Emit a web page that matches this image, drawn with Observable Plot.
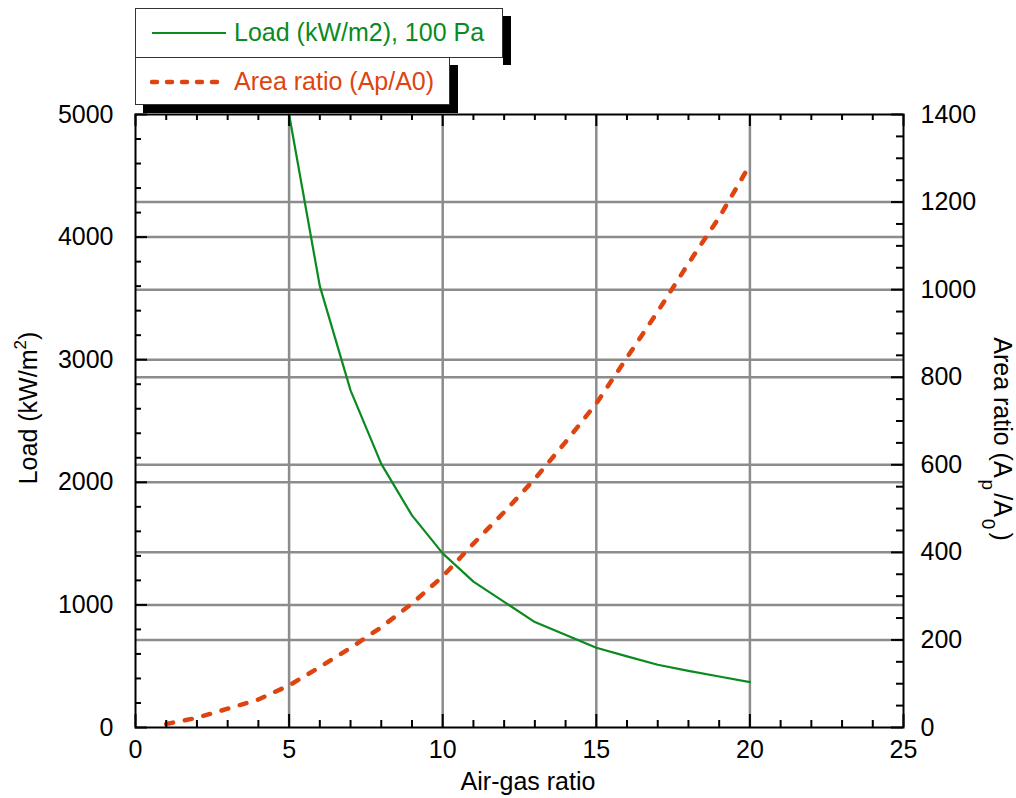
<!DOCTYPE html>
<html>
<head>
<meta charset="utf-8">
<script src="https://cdn.jsdelivr.net/npm/d3@7"></script>
<script src="https://cdn.jsdelivr.net/npm/@observablehq/plot@0.6"></script>
<style>
  body { margin: 0; background: #fff; }
  #wrap { position: relative; width: 1016px; height: 798px; font-family: "Liberation Sans", Arial, Helvetica, sans-serif; }
  #wrap > svg { position: absolute; left: 0; top: 0; }
  .box { position: absolute; background: #fff; border: 1px solid #333; box-sizing: border-box; z-index: 3; }
  .shade { position: absolute; background: #000; z-index: 2; }
  .item { position: absolute; font-size: 25px; white-space: nowrap; line-height: 25px; display: flex; align-items: center; }
  .item svg { display: block; margin-right: 6px; }
</style>
</head>
<body>
<div id="wrap"></div>
<script>
// Air-gas ratio vs. burner load (kW/m2 at 100 Pa) and port area ratio Ap/A0
const loadX = [5, 6, 7, 8, 9, 10, 11, 13, 15, 16, 17, 18, 19, 20];
const loadY = [5000, 3600, 2750, 2150, 1730, 1420, 1190, 860, 650, 580, 512, 462, 416, 370];
const areaX = [1, 2, 3, 4, 5, 6, 7, 8, 9, 10, 11, 12, 13, 14, 15, 16, 17, 18, 19, 20];
const areaY = [8, 22, 43, 64, 96, 138, 182, 229, 283, 345, 420, 492, 568, 652, 740, 845, 950, 1060, 1165, 1285];

const xTicks = [0, 5, 10, 15, 20, 25];
const loadTicks = [0, 1000, 2000, 3000, 4000, 5000];
const areaTicks = [0, 200, 400, 600, 800, 1000, 1200, 1400];

const seriesNames = ["Load (kW/m2), 100 Pa", "Area ratio (Ap/A0)"];
const xLabel = "Air-gas ratio";

const green = "#0a8a1f";
const red = "#dd4410";
const gridColor = "#8c8c8c";

// right axis values are mapped onto the left (load) scale
const loadMax = 5000, areaMax = 1400;
const k = loadMax / areaMax;

const W = 1016, H = 798;
const mL = 135, mR = 113, mT = 114, mB = 71;
const pw = W - mL - mR, ph = H - mT - mB;

const loadData = loadX.map((x, i) => ({x, y: loadY[i]}));
const areaData = areaX.map((x, i) => ({x, y: areaY[i] * k}));

const minorX = d3.range(0, 26).filter(d => d % 5 !== 0);
const minorLoad = d3.range(0, 5001, 200).filter(d => d % 1000 !== 0);
const minorArea = d3.range(0, 1401, 50).filter(d => d % 200 !== 0).map(d => d * k);
const majorArea = areaTicks.map(d => d * k);

const tickStyle = {stroke: "#000", strokeWidth: 2};
const plain = d => String(Math.round(d));

const chart = Plot.plot({
  width: W, height: H,
  marginLeft: mL, marginRight: mR, marginTop: mT, marginBottom: mB,
  style: {fontFamily: "'Liberation Sans', Arial, Helvetica, sans-serif", fontSize: "25px", color: "#000", background: "transparent"},
  x: {domain: [0, 25]},
  y: {domain: [0, loadMax]},
  marks: [
    // grid
    Plot.ruleX([5, 10, 15, 20], {stroke: gridColor, strokeWidth: 2.5}),
    Plot.ruleY(loadTicks.slice(1, -1), {stroke: gridColor, strokeWidth: 2.5}),
    Plot.ruleY(majorArea.slice(1, -1), {stroke: gridColor, strokeWidth: 2.5}),
    // series
    Plot.line(loadData, {x: "x", y: "y", stroke: green, strokeWidth: 2.2}),
    Plot.line(areaData, {x: "x", y: "y", stroke: red, strokeWidth: 4.5, strokeDasharray: "7,12", strokeLinecap: "round"}),
    // frame
    Plot.frame({stroke: "#000", strokeWidth: 2}),
    // inward ticks: left
    Plot.tickY(loadTicks, {y: d => d, insetRight: pw - 12, ...tickStyle}),
    Plot.tickY(minorLoad, {y: d => d, insetRight: pw - 6, ...tickStyle}),
    // right
    Plot.tickY(majorArea, {y: d => d, insetLeft: pw - 12, ...tickStyle}),
    Plot.tickY(minorArea, {y: d => d, insetLeft: pw - 7, ...tickStyle}),
    // bottom
    Plot.tickX(xTicks, {x: d => d, insetTop: ph - 13, ...tickStyle}),
    Plot.tickX(minorX, {x: d => d, insetTop: ph - 7, ...tickStyle}),
    // top
    Plot.tickX(xTicks, {x: d => d, insetBottom: ph - 12, ...tickStyle}),
    Plot.tickX(minorX, {x: d => d, insetBottom: ph - 6, ...tickStyle}),
    // tick labels
    Plot.axisX({ticks: xTicks, tickFormat: plain, tickSize: 0, tickPadding: 13, label: null, fontSize: 25}),
    Plot.axisY({anchor: "left", ticks: loadTicks, tickFormat: plain, tickSize: 0, tickPadding: 22, label: null, fontSize: 25}),
    Plot.axisY({anchor: "right", ticks: majorArea, tickFormat: d => plain(d / k), tickSize: 0, tickPadding: 17, label: null, fontSize: 25})
  ]
});

const wrap = document.getElementById("wrap");
wrap.appendChild(chart);

// axis titles with super/subscripts
const svg = d3.select(chart);
const font = "'Liberation Sans', Arial, Helvetica, sans-serif";

svg.append("text")
  .attr("x", 528).attr("y", 790)
  .attr("text-anchor", "middle")
  .style("font-family", font).style("font-size", "25px")
  .text(xLabel);

const ly = svg.append("text")
  .attr("transform", "translate(37,408) rotate(-90)")
  .attr("text-anchor", "middle")
  .style("font-family", font).style("font-size", "25px");
ly.append("tspan").text("Load (kW/m");
ly.append("tspan").attr("dy", -11).style("font-size", "17px").text("2");
ly.append("tspan").attr("dy", 11).text(")");

const ry = svg.append("text")
  .attr("transform", "translate(994,439) rotate(90)")
  .attr("text-anchor", "middle")
  .style("font-family", font).style("font-size", "25px");
ry.append("tspan").text("Area ratio (A");
ry.append("tspan").attr("dy", 12).attr("dx", 2).style("font-size", "19px").text("p");
ry.append("tspan").attr("dy", -12).attr("dx", 3).text("/A");
ry.append("tspan").attr("dy", 12).attr("dx", 2).style("font-size", "19px").text("0");
ry.append("tspan").attr("dy", -12).attr("dx", 3).text(")");

// legend boxes with drop shadows
function addDiv(cls, l, t, w, h) {
  const d = document.createElement("div");
  d.className = cls;
  Object.assign(d.style, {left: l + "px", top: t + "px", width: w + "px", height: h + "px"});
  wrap.appendChild(d);
  return d;
}
addDiv("shade", 503, 16, 8, 49);
addDiv("shade", 450, 65, 8, 48);
addDiv("shade", 143, 105, 315, 8);
const b1 = addDiv("box", 135, 8, 368, 50);
const b2 = addDiv("box", 135, 57, 315, 48);

function legendItem(box, name, color, dash, width) {
  const item = document.createElement("div");
  item.className = "item";
  Object.assign(item.style, {left: "14px", top: "11px", color});
  const ns = "http://www.w3.org/2000/svg";
  const s = document.createElementNS(ns, "svg");
  s.setAttribute("width", 78); s.setAttribute("height", 12);
  const ln = document.createElementNS(ns, "line");
  ln.setAttribute("x1", 2); ln.setAttribute("x2", 76);
  ln.setAttribute("y1", 6); ln.setAttribute("y2", 6);
  ln.setAttribute("stroke", color); ln.setAttribute("stroke-width", width);
  if (dash) { ln.setAttribute("stroke-dasharray", dash); ln.setAttribute("stroke-linecap", "round"); }
  s.appendChild(ln);
  item.appendChild(s);
  item.appendChild(document.createTextNode(seriesNames[name]));
  box.appendChild(item);
}
legendItem(b1, 0, green, null, 2.2);
legendItem(b2, 1, red, "5,10", 4.5);
</script>
</body>
</html>
